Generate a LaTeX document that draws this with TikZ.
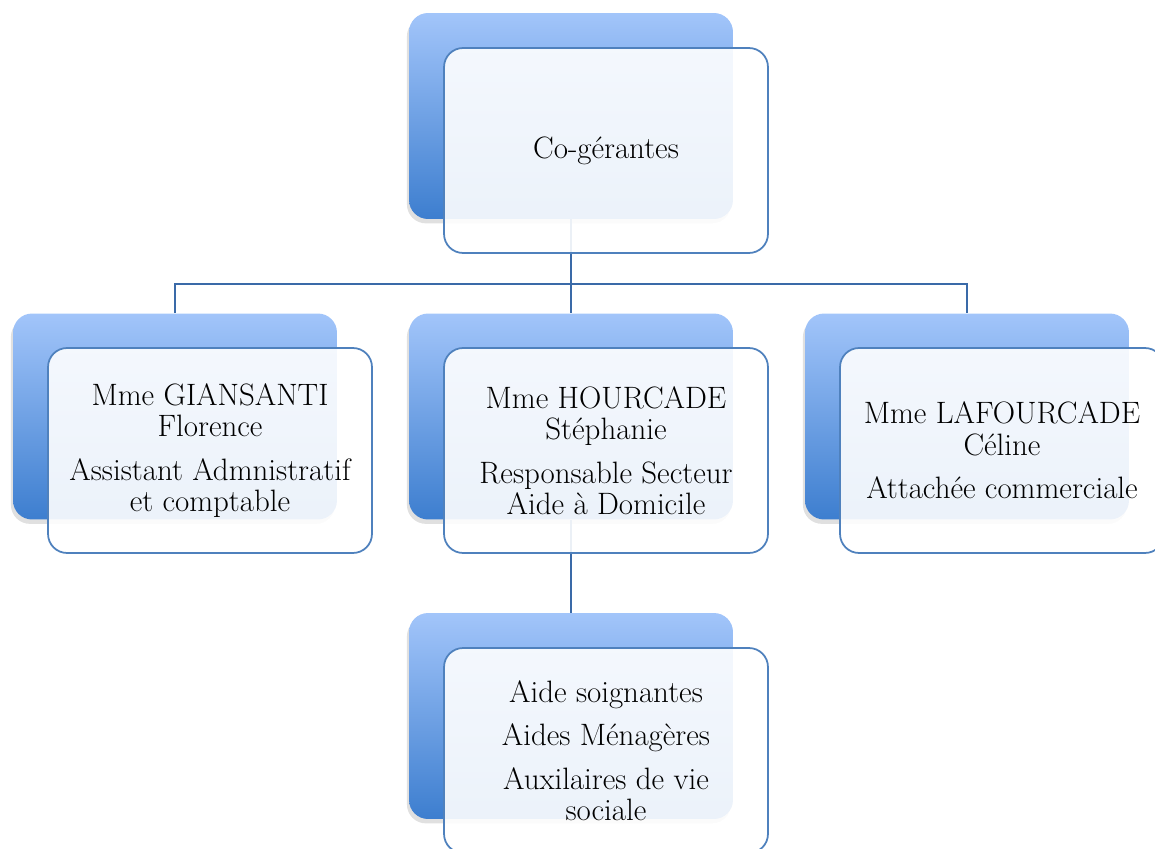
\documentclass[tikz,border=0pt]{standalone}
\usetikzlibrary{shadows}
\definecolor{backtop}{HTML}{A2C5FA}
\definecolor{backbot}{HTML}{3D7ECF}
\definecolor{frontline}{HTML}{4F81BD}
\definecolor{connline}{HTML}{3A6AA8}
\tikzset{
  backbox/.style={rectangle, rounded corners=0.38cm, minimum width=6.48cm, minimum height=4.12cm,
    top color=backtop, bottom color=backbot, draw=none,
    drop shadow={shadow xshift=-1.2pt, shadow yshift=-2.5pt, fill=black, opacity=0.12}},
  frontbox/.style={rectangle, rounded corners=0.38cm, minimum width=6.48cm, minimum height=4.1cm,
    draw=frontline, line width=1pt, fill=white, fill opacity=0.9, text opacity=1,
    align=center, font=\fontsize{17.6}{17.8}\selectfont, inner sep=0pt},
  conn/.style={draw=connline, line width=0.9pt}
}
\begin{document}
\begin{tikzpicture}[x=0.02cm, y=-0.02cm]
\useasboundingbox (0,0) rectangle (1155,848);
\clip (0,0) rectangle (1155,848);
\coordinate (bus) at (571,284);
% back boxes
\node[backbox] (topB) at (571,116) {};
\node[backbox] (leftB) at (175,416.5) {};
\node[backbox] (midB) at (571,416.5) {};
\node[backbox] (rightB) at (967,416.5) {};
\node[backbox] (botB) at (571,716) {};
% connectors
\draw[conn] (topB.south) -- (bus);
\draw[conn] (leftB.north) |- (bus) -| (rightB.north);
\draw[conn] (bus) -- (midB.north);
\draw[conn] (midB.south) -- (botB.north);
% front boxes
\node[frontbox] (topF) at (606,150.5) {Co-gérantes};
\node[frontbox] (leftF) at (210,450.5) {Mme GIANSANTI\\Florence\\[7pt]Assistant Admnistratif\\et comptable};
\node[frontbox] (midF) at (606,450.5) {Mme HOURCADE\\Stéphanie\\[7pt]Responsable Secteur\\Aide à Domicile};
\node[frontbox] (rightF) at (1002,450.5) {Mme LAFOURCADE\\Céline\\[7pt]Attachée commerciale};
\node[frontbox] (botF) at (606,750.5) {Aide soignantes\\[7pt]Aides Ménagères\\[7pt]Auxilaires de vie\\sociale};
\end{tikzpicture}
\end{document}
